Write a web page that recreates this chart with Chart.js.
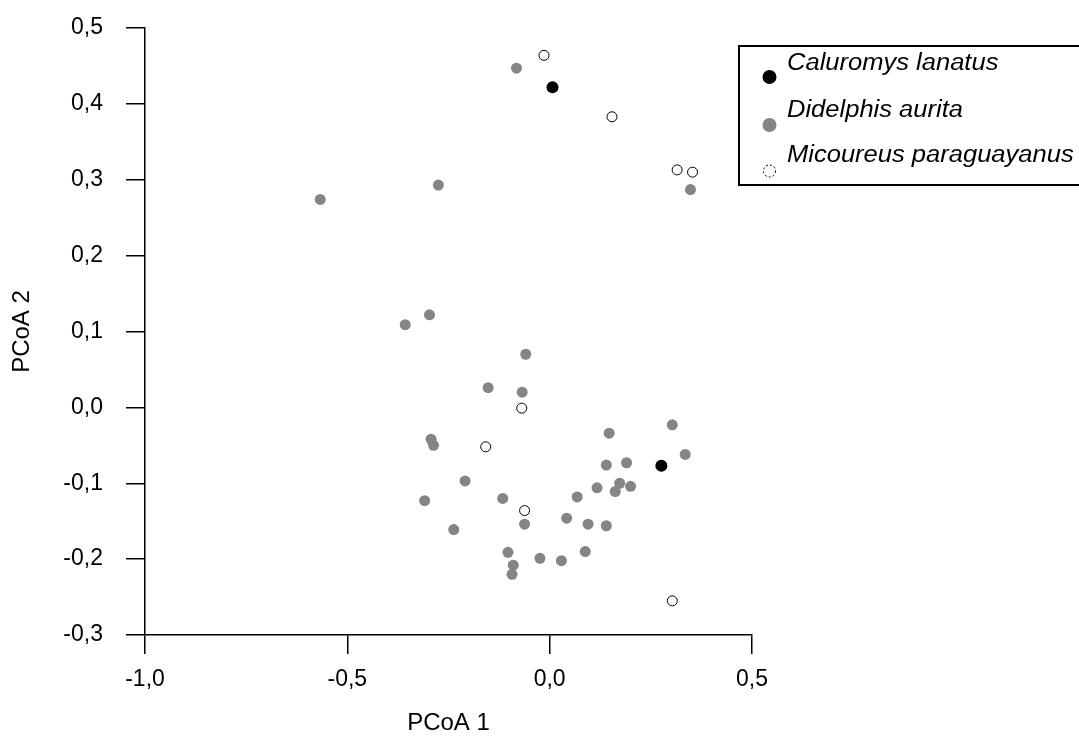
<!DOCTYPE html>
<html>
<head>
<meta charset="utf-8">
<script src="https://cdn.jsdelivr.net/npm/chart.js@4.4.1/dist/chart.umd.min.js"></script>
<style>
  html, body { margin: 0; padding: 0; background: #fff; }
  canvas { display: block; }
</style>
</head>
<body>
<canvas id="pcoa" width="1079" height="743"></canvas>
<script>
// species names (legend order)
const species = ["Caluromys lanatus", "Didelphis aurita", "Micoureus paraguayanus"];

// PCoA scores
const caluromysX = [0.007, 0.276];
const caluromysY = [0.422, -0.077];

const didelphisX = [-0.082, -0.275, -0.567, 0.348, -0.357, -0.297, -0.059, -0.152, -0.068, -0.293,
                    -0.287, 0.147, 0.303, -0.209, -0.309, -0.116, 0.335, 0.140, 0.190, 0.068,
                    0.117, 0.173, 0.200, 0.162, -0.062, 0.042, 0.095, 0.140, -0.237, -0.103,
                    -0.024, 0.029, 0.088, -0.090, -0.093];
const didelphisY = [0.447, 0.293, 0.274, 0.287, 0.109, 0.122, 0.070, 0.026, 0.020, -0.042,
                    -0.050, -0.034, -0.023, -0.097, -0.123, -0.120, -0.062, -0.076, -0.073, -0.118,
                    -0.106, -0.100, -0.104, -0.111, -0.154, -0.146, -0.154, -0.156, -0.161, -0.191,
                    -0.199, -0.202, -0.190, -0.208, -0.220];

const micoureusX = [-0.014, 0.154, 0.315, 0.353, -0.069, -0.158, -0.062, 0.303];
const micoureusY = [0.464, 0.383, 0.313, 0.310, -0.001, -0.052, -0.136, -0.255];

// axis ranges
const xMin = -1.0, xMax = 0.5, xStep = 0.5;
const yMin = -0.3, yMax = 0.5, yStep = 0.1;

const pts = (xs, ys) => xs.map((x, i) => ({ x: x, y: ys[i] }));
const comma = v => (Math.abs(v) < 1e-9 ? 0 : v).toFixed(1).replace(".", ",");

const FONT = "'Liberation Sans', Arial, sans-serif";

// legend drawn in a box to the right, like the original figure
const legendBox = {
  id: "legendBox",
  afterDraw(chart) {
    const ctx = chart.ctx;
    ctx.save();
    ctx.lineWidth = 2;
    ctx.strokeStyle = "#000";
    ctx.strokeRect(739, 46, 360, 139);
    const baseY = [70, 116.5, 161.5];
    const markY = [77, 125, 171];
    chart.data.datasets.forEach((ds, i) => {
      // marker
      ctx.beginPath();
      ctx.arc(769.5, markY[i], i === 2 ? 6 : 7, 0, Math.PI * 2);
      if (i === 2) {
        ctx.fillStyle = "#fff";
        ctx.fill();
        ctx.setLineDash([2, 2]);
        ctx.lineWidth = 1;
        ctx.strokeStyle = "#000";
        ctx.stroke();
        ctx.setLineDash([]);
      } else {
        ctx.fillStyle = ds.backgroundColor;
        ctx.fill();
      }
      // label (slightly wide italic, as in the figure)
      ctx.save();
      ctx.translate(787, baseY[i]);
      ctx.scale(1.11, 1);
      ctx.font = "italic 23px " + FONT;
      ctx.fillStyle = "#000";
      ctx.textBaseline = "alphabetic";
      ctx.fillText(ds.label, 0, 0);
      ctx.restore();
    });
    ctx.restore();
  }
};

const axisGrid = {
  display: true,
  drawOnChartArea: false,
  drawTicks: true,
  tickLength: 19,
  color: "#000",
  lineWidth: 1.5
};
const axisBorder = { display: true, color: "#000", width: 1.5 };

new Chart(document.getElementById("pcoa"), {
  type: "scatter",
  data: {
    datasets: [
      {
        label: species[0],
        data: pts(caluromysX, caluromysY),
        backgroundColor: "#000",
        borderWidth: 0,
        pointRadius: 6
      },
      {
        label: species[1],
        data: pts(didelphisX, didelphisY),
        backgroundColor: "#858585",
        borderWidth: 0,
        pointRadius: 5.5
      },
      {
        label: species[2],
        data: pts(micoureusX, micoureusY),
        backgroundColor: "#fff",
        borderColor: "#000",
        borderWidth: 1,
        pointRadius: 5
      }
    ]
  },
  options: {
    responsive: false,
    animation: false,
    devicePixelRatio: 1,
    events: [],
    layout: { padding: { top: 28, right: 327, bottom: 0, left: 0 } },
    plugins: {
      legend: { display: false },
      tooltip: { enabled: false }
    },
    scales: {
      x: {
        type: "linear",
        min: xMin,
        max: xMax,
        grid: axisGrid,
        border: axisBorder,
        ticks: {
          stepSize: xStep,
          padding: 12,
          color: "#000",
          font: { family: FONT, size: 23 },
          callback: v => comma(v)
        },
        title: {
          display: true,
          text: "PCoA 1",
          color: "#000",
          font: { family: FONT, size: 24 },
          padding: { top: 0, bottom: 5 }
        },
        afterFit: s => { s.height = 108; }
      },
      y: {
        type: "linear",
        min: yMin,
        max: yMax,
        grid: axisGrid,
        border: axisBorder,
        ticks: {
          stepSize: yStep,
          padding: 23,
          color: "#000",
          font: { family: FONT, size: 23 },
          callback: v => comma(v)
        },
        title: {
          display: true,
          text: "PCoA 2",
          color: "#000",
          font: { family: FONT, size: 24 },
          padding: { top: 8, bottom: 0 }
        },
        afterFit: s => {
          s.width = 145;
          // keep the label padding from pushing the plot down
          s.paddingTop = 0;
          s.paddingBottom = 0;
        }
      }
    }
  },
  plugins: [legendBox]
});
</script>
</body>
</html>
